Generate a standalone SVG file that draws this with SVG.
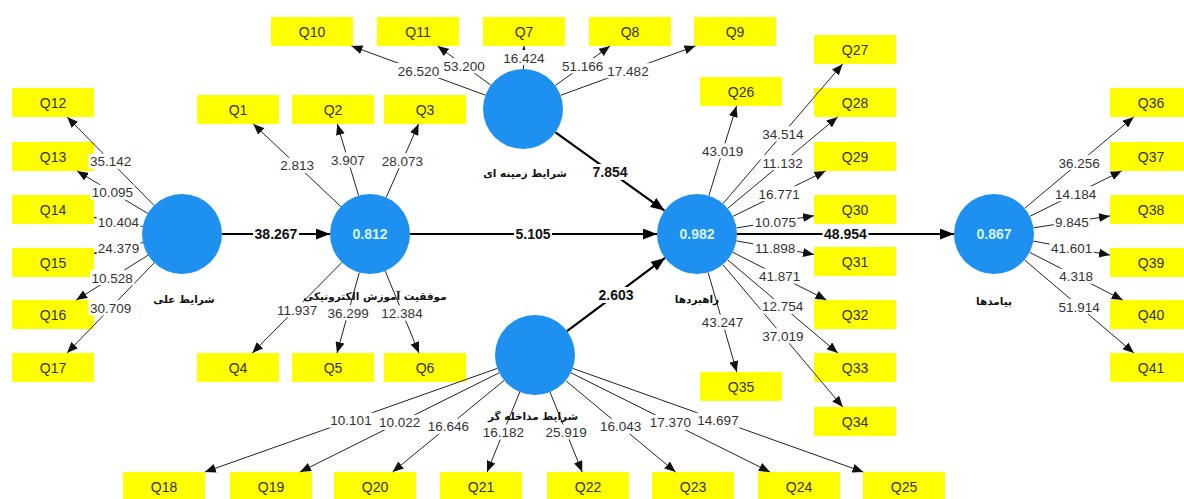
<svg xmlns="http://www.w3.org/2000/svg" width="1184" height="499" viewBox="0 0 1184 499">
<style>
.bx{fill:#ffff00}
.ql{font-family:"Liberation Sans",Arial,sans-serif;font-size:14px;fill:#333;text-anchor:middle}
.c{fill:#1e90f0}
.cv{font-family:"Liberation Sans",Arial,sans-serif;font-size:14px;font-weight:bold;fill:#d8f4ff;text-anchor:middle}
.fa{font-family:"DejaVu Sans",sans-serif;font-size:10.5px;font-weight:bold;fill:#111;text-anchor:middle}
.tl{stroke:#222;stroke-width:1;fill:none;marker-end:url(#a)}
.tk{stroke:#000;stroke-width:2.2;fill:none;marker-end:url(#b)}
.lb{fill:#fff}
.n{font-family:"Liberation Sans",Arial,sans-serif;font-size:13.5px;fill:#333;text-anchor:middle}
.nb{font-family:"Liberation Sans",Arial,sans-serif;font-size:14px;font-weight:bold;fill:#111;text-anchor:middle}
</style>
<defs>
<marker id="a" viewBox="0 0 11 9" refX="11" refY="4.5" markerWidth="11" markerHeight="9" markerUnits="userSpaceOnUse" orient="auto"><path d="M0,0L11,4.5L0,9z" fill="#111"/></marker>
<marker id="b" viewBox="0 0 14 11" refX="14" refY="5.5" markerWidth="14" markerHeight="11" markerUnits="userSpaceOnUse" orient="auto"><path d="M0,0L14,5.5L0,11z" fill="#000"/></marker>
</defs>
<rect width="1184" height="499" fill="#fff"/>

<g id="indicators">
<g id="Q12"><rect class="bx" x="12" y="88" width="82" height="29"/><text class="ql" x="53" y="107.5">Q12</text></g>
<g id="Q13"><rect class="bx" x="12" y="142" width="82" height="29"/><text class="ql" x="53" y="161.5">Q13</text></g>
<g id="Q14"><rect class="bx" x="12" y="195" width="82" height="29"/><text class="ql" x="53" y="214.5">Q14</text></g>
<g id="Q15"><rect class="bx" x="12" y="248" width="82" height="29"/><text class="ql" x="53" y="267.5">Q15</text></g>
<g id="Q16"><rect class="bx" x="12" y="300" width="82" height="29"/><text class="ql" x="53" y="319.5">Q16</text></g>
<g id="Q17"><rect class="bx" x="12" y="353" width="82" height="29"/><text class="ql" x="53" y="372.5">Q17</text></g>
<g id="Q1"><rect class="bx" x="197" y="95" width="82" height="29"/><text class="ql" x="238" y="114.5">Q1</text></g>
<g id="Q2"><rect class="bx" x="292" y="95" width="82" height="29"/><text class="ql" x="333" y="114.5">Q2</text></g>
<g id="Q3"><rect class="bx" x="384" y="95" width="82" height="29"/><text class="ql" x="425" y="114.5">Q3</text></g>
<g id="Q4"><rect class="bx" x="197" y="353" width="82" height="29"/><text class="ql" x="238" y="372.5">Q4</text></g>
<g id="Q5"><rect class="bx" x="292" y="353" width="82" height="29"/><text class="ql" x="333" y="372.5">Q5</text></g>
<g id="Q6"><rect class="bx" x="384" y="353" width="82" height="29"/><text class="ql" x="425" y="372.5">Q6</text></g>
<g id="Q10"><rect class="bx" x="271" y="17" width="82" height="29"/><text class="ql" x="312" y="36.5">Q10</text></g>
<g id="Q11"><rect class="bx" x="377" y="17" width="82" height="29"/><text class="ql" x="418" y="36.5">Q11</text></g>
<g id="Q7"><rect class="bx" x="483" y="17" width="82" height="29"/><text class="ql" x="524" y="36.5">Q7</text></g>
<g id="Q8"><rect class="bx" x="589" y="17" width="82" height="29"/><text class="ql" x="630" y="36.5">Q8</text></g>
<g id="Q9"><rect class="bx" x="694" y="17" width="82" height="29"/><text class="ql" x="735" y="36.5">Q9</text></g>
<g id="Q26"><rect class="bx" x="700" y="77" width="82" height="29"/><text class="ql" x="741" y="96.5">Q26</text></g>
<g id="Q27"><rect class="bx" x="814" y="35" width="82" height="29"/><text class="ql" x="855" y="54.5">Q27</text></g>
<g id="Q28"><rect class="bx" x="814" y="88" width="82" height="29"/><text class="ql" x="855" y="107.5">Q28</text></g>
<g id="Q29"><rect class="bx" x="814" y="142" width="82" height="29"/><text class="ql" x="855" y="161.5">Q29</text></g>
<g id="Q30"><rect class="bx" x="814" y="195" width="82" height="29"/><text class="ql" x="855" y="214.5">Q30</text></g>
<g id="Q31"><rect class="bx" x="814" y="247" width="82" height="29"/><text class="ql" x="855" y="266.5">Q31</text></g>
<g id="Q32"><rect class="bx" x="814" y="300" width="82" height="29"/><text class="ql" x="855" y="319.5">Q32</text></g>
<g id="Q33"><rect class="bx" x="814" y="353" width="82" height="29"/><text class="ql" x="855" y="372.5">Q33</text></g>
<g id="Q34"><rect class="bx" x="814" y="407" width="82" height="29"/><text class="ql" x="855" y="426.5">Q34</text></g>
<g id="Q35"><rect class="bx" x="700" y="372" width="82" height="29"/><text class="ql" x="741" y="391.5">Q35</text></g>
<g id="Q36"><rect class="bx" x="1110" y="88" width="82" height="29"/><text class="ql" x="1151" y="107.5">Q36</text></g>
<g id="Q37"><rect class="bx" x="1110" y="142" width="82" height="29"/><text class="ql" x="1151" y="161.5">Q37</text></g>
<g id="Q38"><rect class="bx" x="1110" y="195" width="82" height="29"/><text class="ql" x="1151" y="214.5">Q38</text></g>
<g id="Q39"><rect class="bx" x="1110" y="248" width="82" height="29"/><text class="ql" x="1151" y="267.5">Q39</text></g>
<g id="Q40"><rect class="bx" x="1110" y="300" width="82" height="29"/><text class="ql" x="1151" y="319.5">Q40</text></g>
<g id="Q41"><rect class="bx" x="1110" y="353" width="82" height="29"/><text class="ql" x="1151" y="372.5">Q41</text></g>
<g id="Q18"><rect class="bx" x="123" y="472" width="82" height="29"/><text class="ql" x="164" y="491.5">Q18</text></g>
<g id="Q19"><rect class="bx" x="230" y="472" width="82" height="29"/><text class="ql" x="271" y="491.5">Q19</text></g>
<g id="Q20"><rect class="bx" x="334" y="472" width="82" height="29"/><text class="ql" x="375" y="491.5">Q20</text></g>
<g id="Q21"><rect class="bx" x="440" y="472" width="82" height="29"/><text class="ql" x="481" y="491.5">Q21</text></g>
<g id="Q22"><rect class="bx" x="547" y="472" width="82" height="29"/><text class="ql" x="588" y="491.5">Q22</text></g>
<g id="Q23"><rect class="bx" x="652" y="472" width="82" height="29"/><text class="ql" x="693" y="491.5">Q23</text></g>
<g id="Q24"><rect class="bx" x="758" y="472" width="82" height="29"/><text class="ql" x="799" y="491.5">Q24</text></g>
<g id="Q25"><rect class="bx" x="863" y="472" width="82" height="29"/><text class="ql" x="904" y="491.5">Q25</text></g>
</g>

<g id="connectors">
<line class="tl" x1="154" y1="205.4" x2="67.2" y2="117"/>
<line class="tl" x1="147.7" y1="213.4" x2="77.1" y2="171"/>
<line class="tl" x1="142.7" y1="226.5" x2="94" y2="217.3"/>
<line class="tl" x1="142.9" y1="242.6" x2="94" y2="253.4"/>
<line class="tl" x1="148.1" y1="255.2" x2="76.2" y2="300"/>
<line class="tl" x1="154.2" y1="262.8" x2="67" y2="353"/>
<line class="tl" x1="340.9" y1="206.6" x2="253.3" y2="124"/>
<line class="tl" x1="358.6" y1="195.7" x2="337.3" y2="124"/>
<line class="tl" x1="386.2" y1="197.4" x2="418.6" y2="124"/>
<line class="tl" x1="341.9" y1="262.4" x2="252.3" y2="353"/>
<line class="tl" x1="359.3" y1="272.6" x2="337" y2="353"/>
<line class="tl" x1="385.2" y1="271" x2="419" y2="353"/>
<line class="tl" x1="485.5" y1="95.2" x2="351.5" y2="46"/>
<line class="tl" x1="490.8" y1="85.2" x2="437.6" y2="46"/>
<line class="tl" x1="523.5" y1="69" x2="524" y2="46"/>
<line class="tl" x1="555.4" y1="85.5" x2="610" y2="46"/>
<line class="tl" x1="560.6" y1="95.3" x2="695.4" y2="46"/>
<line class="tl" x1="708.8" y1="195.8" x2="736.5" y2="106"/>
<line class="tl" x1="723" y1="203.6" x2="842.6" y2="64"/>
<line class="tl" x1="727.7" y1="208.4" x2="837.6" y2="117"/>
<line class="tl" x1="732.9" y1="216.4" x2="825.5" y2="171"/>
<line class="tl" x1="736.5" y1="227.9" x2="814" y2="215.8"/>
<line class="tl" x1="736.4" y1="240.9" x2="814" y2="254.4"/>
<line class="tl" x1="732.6" y1="252.2" x2="826.5" y2="300"/>
<line class="tl" x1="727.6" y1="259.8" x2="837.8" y2="353"/>
<line class="tl" x1="722.8" y1="264.6" x2="842.8" y2="407"/>
<line class="tl" x1="708.1" y1="272.4" x2="736.8" y2="372"/>
<line class="tl" x1="1024.7" y1="208.3" x2="1133.7" y2="117"/>
<line class="tl" x1="1029.9" y1="216.3" x2="1121.6" y2="171"/>
<line class="tl" x1="1033.5" y1="227.8" x2="1110" y2="215.9"/>
<line class="tl" x1="1033.3" y1="241.1" x2="1110" y2="255.1"/>
<line class="tl" x1="1029.6" y1="252.3" x2="1122.7" y2="300"/>
<line class="tl" x1="1024.5" y1="259.9" x2="1133.9" y2="353"/>
<line class="tl" x1="497.3" y1="368.4" x2="204.8" y2="472"/>
<line class="tl" x1="499.2" y1="372.8" x2="300" y2="472"/>
<line class="tl" x1="504.1" y1="380.4" x2="392.6" y2="472"/>
<line class="tl" x1="519.8" y1="392" x2="487" y2="472"/>
<line class="tl" x1="550" y1="392.1" x2="582.2" y2="472"/>
<line class="tl" x1="565.7" y1="380.6" x2="675.6" y2="472"/>
<line class="tl" x1="570.8" y1="372.8" x2="770" y2="472"/>
<line class="tl" x1="572.7" y1="368.4" x2="863.4" y2="472"/>
<line class="tk" x1="222" y1="234" x2="330" y2="234"/>
<line class="tk" x1="410" y1="234" x2="657" y2="234"/>
<line class="tk" x1="555.5" y1="132.4" x2="664.5" y2="210.6"/>
<line class="tk" x1="567" y1="331.1" x2="665" y2="257.9"/>
<line class="tk" x1="737" y1="234" x2="954" y2="234"/>

<g id="labels">
<rect class="lb" x="88.6" y="153.7" width="44" height="15"/><text class="n" x="110.6" y="166.2">35.142</text>
<rect class="lb" x="90.4" y="184.7" width="44" height="15"/><text class="n" x="112.4" y="197.2">10.095</text>
<rect class="lb" x="96.4" y="214.4" width="44" height="15"/><text class="n" x="118.4" y="226.9">10.404</text>
<rect class="lb" x="96.5" y="240.5" width="44" height="15"/><text class="n" x="118.5" y="253">24.379</text>
<rect class="lb" x="90.2" y="270.1" width="44" height="15"/><text class="n" x="112.2" y="282.6">10.528</text>
<rect class="lb" x="88.6" y="300.4" width="44" height="15"/><text class="n" x="110.6" y="312.9">30.709</text>
<rect class="lb" x="279.1" y="157.8" width="36" height="15"/><text class="n" x="297.1" y="170.3">2.813</text>
<rect class="lb" x="330" y="152.4" width="36" height="15"/><text class="n" x="348" y="164.9">3.907</text>
<rect class="lb" x="380.4" y="153.2" width="44" height="15"/><text class="n" x="402.4" y="165.7">28.073</text>
<rect class="lb" x="275.1" y="302.2" width="44" height="15"/><text class="n" x="297.1" y="314.7">11.937</text>
<rect class="lb" x="326.2" y="305.3" width="44" height="15"/><text class="n" x="348.2" y="317.8">36.299</text>
<rect class="lb" x="380" y="305.5" width="44" height="15"/><text class="n" x="402" y="318">12.384</text>
<rect class="lb" x="396.5" y="63.1" width="44" height="15"/><text class="n" x="418.5" y="75.6">26.520</text>
<rect class="lb" x="442.2" y="58.1" width="44" height="15"/><text class="n" x="464.2" y="70.6">53.200</text>
<rect class="lb" x="501.8" y="50" width="44" height="15"/><text class="n" x="523.8" y="62.5">16.424</text>
<rect class="lb" x="560.7" y="58.2" width="44" height="15"/><text class="n" x="582.7" y="70.7">51.166</text>
<rect class="lb" x="606" y="63.2" width="44" height="15"/><text class="n" x="628" y="75.7">17.482</text>
<rect class="lb" x="700.7" y="143.4" width="44" height="15"/><text class="n" x="722.7" y="155.9">43.019</text>
<rect class="lb" x="760.8" y="126.3" width="44" height="15"/><text class="n" x="782.8" y="138.8">34.514</text>
<rect class="lb" x="760.7" y="155.2" width="44" height="15"/><text class="n" x="782.7" y="167.7">11.132</text>
<rect class="lb" x="757.2" y="186.2" width="44" height="15"/><text class="n" x="779.2" y="198.7">16.771</text>
<rect class="lb" x="753.3" y="214.4" width="44" height="15"/><text class="n" x="775.3" y="226.9">10.075</text>
<rect class="lb" x="753.2" y="240.2" width="44" height="15"/><text class="n" x="775.2" y="252.7">11.898</text>
<rect class="lb" x="757.6" y="268.6" width="44" height="15"/><text class="n" x="779.6" y="281.1">41.871</text>
<rect class="lb" x="760.7" y="298.9" width="44" height="15"/><text class="n" x="782.7" y="311.4">12.754</text>
<rect class="lb" x="760.8" y="328.3" width="44" height="15"/><text class="n" x="782.8" y="340.8">37.019</text>
<rect class="lb" x="700.5" y="314.7" width="44" height="15"/><text class="n" x="722.5" y="327.2">43.247</text>
<rect class="lb" x="1057.2" y="155.2" width="44" height="15"/><text class="n" x="1079.2" y="167.7">36.256</text>
<rect class="lb" x="1053.7" y="186.2" width="44" height="15"/><text class="n" x="1075.7" y="198.7">14.184</text>
<rect class="lb" x="1053.8" y="214.4" width="36" height="15"/><text class="n" x="1071.8" y="226.9">9.845</text>
<rect class="lb" x="1049.7" y="240.6" width="44" height="15"/><text class="n" x="1071.7" y="253.1">41.601</text>
<rect class="lb" x="1058.2" y="268.7" width="36" height="15"/><text class="n" x="1076.2" y="281.2">4.318</text>
<rect class="lb" x="1057.2" y="299" width="44" height="15"/><text class="n" x="1079.2" y="311.5">51.914</text>
<rect class="lb" x="329" y="412.7" width="44" height="15"/><text class="n" x="351" y="425.2">10.101</text>
<rect class="lb" x="377.6" y="414.9" width="44" height="15"/><text class="n" x="399.6" y="427.4">10.022</text>
<rect class="lb" x="426.4" y="418.7" width="44" height="15"/><text class="n" x="448.4" y="431.2">16.646</text>
<rect class="lb" x="481.4" y="424.5" width="44" height="15"/><text class="n" x="503.4" y="437">16.182</text>
<rect class="lb" x="544.1" y="424.5" width="44" height="15"/><text class="n" x="566.1" y="437">25.919</text>
<rect class="lb" x="598.7" y="418.8" width="44" height="15"/><text class="n" x="620.7" y="431.3">16.043</text>
<rect class="lb" x="648.4" y="414.9" width="44" height="15"/><text class="n" x="670.4" y="427.4">17.370</text>
<rect class="lb" x="696" y="412.7" width="44" height="15"/><text class="n" x="718" y="425.2">14.697</text>
<rect class="lb" x="253" y="226" width="46" height="16"/><text class="nb" x="276" y="239">38.267</text>
<rect class="lb" x="514" y="226" width="38" height="16"/><text class="nb" x="533" y="239">5.105</text>
<rect class="lb" x="591" y="164" width="38" height="16"/><text class="nb" x="610" y="177">7.854</text>
<rect class="lb" x="597" y="287" width="38" height="16"/><text class="nb" x="616" y="300">2.603</text>
<rect class="lb" x="822.5" y="226" width="46" height="16"/><text class="nb" x="845.5" y="239">48.954</text>
</g>
</g>

<g id="causal">
<circle class="c" cx="182" cy="234" r="40"/>
<text class="fa" x="184" y="303">شرایط علی</text>
</g>
<g id="elearning">
<circle class="c" cx="370" cy="234" r="40"/>
<text class="cv" x="370" y="239">0.812</text>
<text class="fa" x="375" y="300">موفقیت آموزش الکترونیکی</text>
</g>
<g id="context">
<circle class="c" cx="523" cy="109" r="40"/>
<text class="fa" x="525" y="177">شرایط زمینه ای</text>
</g>
<g id="strategies">
<circle class="c" cx="697" cy="234" r="40"/>
<text class="cv" x="697" y="239">0.982</text>
<text class="fa" x="697" y="303">راهبردها</text>
</g>
<g id="outcomes">
<circle class="c" cx="994" cy="234" r="40"/>
<text class="cv" x="994" y="239">0.867</text>
<text class="fa" x="994" y="305">پیامدها</text>
</g>
<g id="intervening">
<circle class="c" cx="535" cy="355" r="40"/>
<text class="fa" x="533" y="420">شرایط مداخله گر</text>
</g>
</svg>
